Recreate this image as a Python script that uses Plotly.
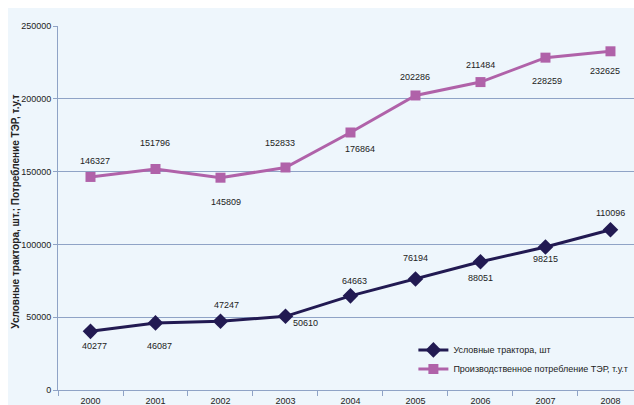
import plotly.graph_objects as go

years = ["2000", "2001", "2002", "2003", "2004", "2005", "2006", "2007", "2008"]
tractors = [40277, 46087, 47247, 50610, 64663, 76194, 88051, 98215, 110096]
ter = [146327, 151796, 145809, 152833, 176864, 202286, 211484, 228259, 232625]

# label offsets in pixels (style only): (x shift, y shift; positive y = up)
tractor_dx = [4, 4, 6, 20, 4, 0, 0, 0, 0]
tractor_dy = [-15, -23, 16, -7, 15, 21, -16, -12, 17]
ter_dx = [4, 0, 6, -5, 10, 0, 0, 2, -5]
ter_dy = [16, 26, -24, 24, -17, 18, 17, -23, -20]

name_tr = "Условные трактора, шт"
name_ter = "Производственное потребление ТЭР, т.у.т"
ytitle = "Условные трактора, шт.; Потребление ТЭР, т.у.т"

fam = "Liberation Sans, Arial"
lab_font = dict(family=fam, size=9, color="#222222")
bg = "#EEF6FC"
grid = "#8FA3C6"
c_tr = "#221A52"
c_ter = "#B062A9"

fig = go.Figure()
fig.add_trace(go.Scatter(
    x=years, y=tractors, name=name_tr, mode="lines+markers",
    line=dict(color=c_tr, width=3),
    marker=dict(symbol="diamond", size=12, color=c_tr),
    cliponaxis=False,
))
fig.add_trace(go.Scatter(
    x=years, y=ter, name=name_ter, mode="lines+markers",
    line=dict(color=c_ter, width=3),
    marker=dict(symbol="square", size=10, color=c_ter),
    cliponaxis=False,
))

annotations = []
for ys, dxs, dys in ((tractors, tractor_dx, tractor_dy), (ter, ter_dx, ter_dy)):
    for i, (yv, dx, dy) in enumerate(zip(ys, dxs, dys)):
        # category axis: position by category index
        annotations.append(dict(x=i, y=yv, xref="x", yref="y", text=str(yv), showarrow=False,
                                xanchor="center", yanchor="middle", xshift=dx, yshift=dy,
                                font=lab_font))
annotations.append(dict(text="<b>" + ytitle + "</b>", xref="paper", yref="paper",
                        x=(16 - 58) / 576, y=0.49, xanchor="center", yanchor="middle",
                        textangle=-90, showarrow=False,
                        font=dict(family=fam, size=10, color="#222222")))

fig.update_layout(
    width=634, height=405,
    margin=dict(l=58, r=0, t=26, b=15, autoexpand=False),
    paper_bgcolor="white", plot_bgcolor=bg,
    template="none",
    showlegend=True,
    legend=dict(x=0.617, y=0.15, xanchor="left", yanchor="top",
                bgcolor="rgba(0,0,0,0)", itemwidth=30, tracegroupgap=0,
                font=dict(family=fam, size=9, color="#222222")),
    xaxis=dict(type="category", range=[-0.5, 8.362], showgrid=False,
               showline=True, linecolor=grid, linewidth=1,
               ticks="outside", tickson="boundaries", ticklen=5, tickcolor=grid,
               ticklabelstandoff=2,
               tickfont=dict(family=fam, size=9, color="#222222"),
               automargin=False, zeroline=False),
    yaxis=dict(range=[0, 250000], dtick=50000, showgrid=True, gridcolor=grid, gridwidth=1,
               showline=True, linecolor=grid, linewidth=1,
               ticks="outside", ticklen=4, tickcolor=grid, tickformat="d",
               tickfont=dict(family=fam, size=9, color="#222222"),
               automargin=False, zeroline=False),
    shapes=[dict(type="rect", xref="paper", yref="paper",
                 x0=(8 - 58) / 576, x1=1.0, y0=-15 / 364, y1=1 + 18 / 364,
                 fillcolor=bg, line=dict(width=0), layer="below")],
    annotations=annotations,
)

fig.write_html("out.html")
